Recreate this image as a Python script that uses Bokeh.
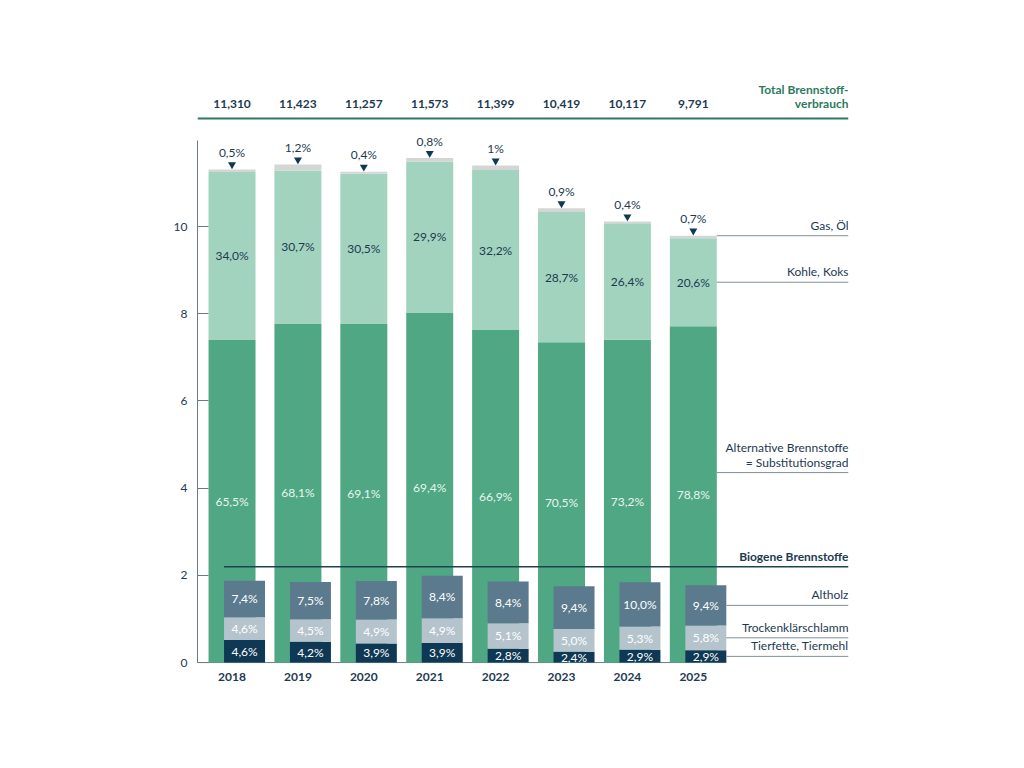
import numpy as np
from bokeh.plotting import figure
from bokeh.models import Range1d, FixedTicker
from bokeh.core.properties import value
from bokeh.embed import file_html
from bokeh.resources import INLINE

# ---------------- data ----------------
years = ["2018", "2019", "2020", "2021", "2022", "2023", "2024", "2025"]
totals = [11.310, 11.423, 11.257, 11.573, 11.399, 10.419, 10.117, 9.791]
alt_pct = [65.5, 68.1, 69.1, 69.4, 66.9, 70.5, 73.2, 78.8]
kohle_pct = [34.0, 30.7, 30.5, 29.9, 32.2, 28.7, 26.4, 20.6]
gas_pct = [0.5, 1.2, 0.4, 0.8, 1.0, 0.9, 0.4, 0.7]
gas_labels = ["0,5%", "1,2%", "0,4%", "0,8%", "1%", "0,9%", "0,4%", "0,7%"]
altholz_pct = [7.4, 7.5, 7.8, 8.4, 8.4, 9.4, 10.0, 9.4]
klaer_pct = [4.6, 4.5, 4.9, 4.9, 5.1, 5.0, 5.3, 5.8]
tier_pct = [4.6, 4.2, 3.9, 3.9, 2.8, 2.4, 2.9, 2.9]
y_ticks = [0, 2, 4, 6, 8, 10]

# ---------------- styles ----------------
FONT = "Lato"
FS = "12px"
NAVY = "#1d3a52"
C_ALT = "#4fa784"
C_KOHLE = "#a2d3be"
C_GAS = "#d4d6d6"
C_ALTHOLZ = "#5c7a8d"
C_KLAER = "#b5c4cc"
C_TIER = "#0e3853"
C_TOTAL = "#2d7a5e"
C_LINE = "#7f8f99"

def fmt(v):
    return f"{v:.1f}".replace(".", ",") + "%"

tot = np.array(totals)
alt = tot * np.array(alt_pct) / 100
kohle = tot * np.array(kohle_pct) / 100
gas = tot * np.array(gas_pct) / 100
altholz = tot * np.array(altholz_pct) / 100
klaer = tot * np.array(klaer_pct) / 100
tier = tot * np.array(tier_pct) / 100
x = np.arange(len(years))

# layout constants
X0, X1 = -0.524, 9.355
Y0, Y1 = -0.87, 13.58
BW = 0.713
IW = 0.622
IOFF = 0.19
BIO_LEVEL = 2.2

p = figure(width=1000, height=740, output_backend="svg", toolbar_location=None,
           x_range=Range1d(X0, X1), y_range=Range1d(Y0, Y1),
           min_border_left=197, min_border_right=152,
           min_border_top=70, min_border_bottom=40)
p.outline_line_color = None
p.xgrid.visible = False
p.ygrid.visible = False
p.xaxis.visible = False
p.background_fill_color = "white"
p.border_fill_color = "white"

ax = p.yaxis[0]
ax.ticker = FixedTicker(ticks=y_ticks)
ax.bounds = (0, 11.97)
ax.major_tick_in = 11
ax.major_tick_out = 0
ax.minor_tick_line_color = None
ax.axis_line_color = "#6b7b86"
ax.major_tick_line_color = "#6b7b86"
ax.major_label_text_font = FONT
ax.major_label_text_font_size = FS
ax.major_label_text_color = NAVY
ax.major_label_standoff = 10

# baseline
p.segment(x0=[X0], y0=[0], x1=[x[-1] + IOFF + IW / 2], y1=[0], line_color="#6b7b86", line_width=1)

# main stacked bars
p.vbar(x=x, width=BW, bottom=0, top=alt, fill_color=C_ALT, line_color=None)
p.vbar(x=x, width=BW, bottom=alt, top=alt + kohle, fill_color=C_KOHLE, line_color=None)
p.vbar(x=x, width=BW, bottom=alt + kohle, top=tot, fill_color=C_GAS, line_color=None)

# biogene bars
p.vbar(x=x + IOFF, width=IW, bottom=0, top=tier, fill_color=C_TIER, line_color=None)
p.vbar(x=x + IOFF, width=IW, bottom=tier, top=tier + klaer, fill_color=C_KLAER, line_color=None)
p.vbar(x=x + IOFF, width=IW, bottom=tier + klaer, top=tier + klaer + altholz, fill_color=C_ALTHOLZ, line_color=None)

# biogene line
p.segment(x0=[x[0] + IOFF - IW / 2], y0=[BIO_LEVEL], x1=[X1], y1=[BIO_LEVEL], line_color="#1f4450", line_width=1.5)

def txt(xs, ys, texts, color, size=FS, bold=False, align="center", baseline="middle", yoff=0):
    p.text(x=list(xs), y=list(ys), text=list(texts), text_color=color,
           text_font=value(FONT), text_font_size=size,
           text_font_style="bold" if bold else "normal",
           text_align=align, text_baseline=baseline, y_offset=yoff)

# segment labels
txt(x, alt / 2, [fmt(v) for v in alt_pct], "#eaf5f0")
txt(x, alt + kohle / 2, [fmt(v) for v in kohle_pct], NAVY)
txt(x + IOFF, tier / 2, [fmt(v) for v in tier_pct], "white")
txt(x + IOFF, tier + klaer / 2, [fmt(v) for v in klaer_pct], "white")
txt(x + IOFF, tier + klaer + altholz / 2, [fmt(v) for v in altholz_pct], "white")

# gas labels with marker
p.scatter(x=x, y=tot + 0.11, marker="inverted_triangle", size=8, fill_color=C_TIER, line_color=None)
txt(x, tot, gas_labels, NAVY, yoff=-17)

# years
txt(x, [-0.34] * len(x), years, NAVY, bold=True)

# totals row
TOT_Y = 12.82
txt(x, [TOT_Y] * len(x), [f"{v:.3f}".replace(".", ",") for v in totals], NAVY, bold=True)
p.segment(x0=[X0], y0=[12.48], x1=[X1], y1=[12.48], line_color=C_TOTAL, line_width=2)
txt([X1], [13.14], ["Total Brennstoff-"], C_TOTAL, bold=True, align="right")
txt([X1], [TOT_Y], ["verbrauch"], C_TOTAL, bold=True, align="right")

# right side labels
last = len(x) - 1
main_right = x[last] + BW / 2
inner_right = x[last] + IOFF + IW / 2
ann = [
    ("Gas, Öl", tot[last], main_right),
    ("Kohle, Koks", alt[last] + kohle[last] / 2, main_right),
    ("= Substitutionsgrad", (alt[last] + 1.0) / 2, main_right),
    ("Altholz", tier[last] + klaer[last] + altholz[last] / 2, inner_right),
    ("Trockenklärschlamm", tier[last] + klaer[last] / 2, inner_right),
    ("Tierfette, Tiermehl", tier[last] / 2, inner_right),
]
for label, yy, xs in ann:
    p.segment(x0=[xs], y0=[yy], x1=[X1], y1=[yy], line_color=C_LINE, line_width=1)
    txt([X1], [yy], [label], NAVY, align="right", baseline="bottom", yoff=-3)
txt([X1], [(alt[last] + 1.0) / 2], ["Alternative Brennstoffe"], NAVY, align="right", baseline="bottom", yoff=-18)
txt([X1], [BIO_LEVEL], ["Biogene Brennstoffe"], NAVY, bold=True, align="right", baseline="bottom", yoff=-3)

open("out.html", "w").write(file_html(p, INLINE))
